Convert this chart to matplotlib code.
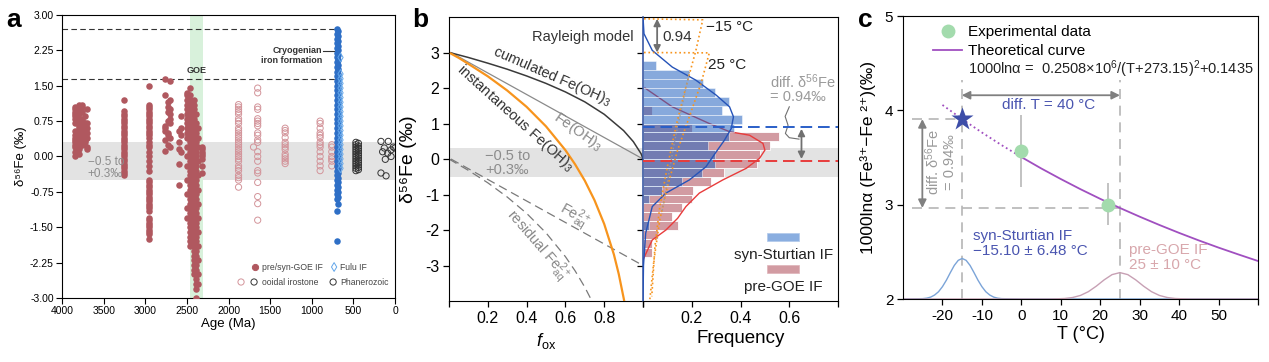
import matplotlib.pyplot as plt
from matplotlib.lines import Line2D
from matplotlib.patches import Rectangle

plt.rcParams['font.family'] = ['Liberation Sans', 'DejaVu Sans']
plt.rcParams['mathtext.fontset'] = 'custom'
plt.rcParams['mathtext.rm'] = 'Liberation Sans'
plt.rcParams['mathtext.it'] = 'Liberation Sans:italic'
plt.rcParams['axes.unicode_minus'] = False

# ---------------- panel a data (age in Ma, d56Fe in permil) ----------------
goe_ages = [3840, 3800, 3760, 3730, 3700, 3250, 2950, 2760, 2730, 2700,
            2600, 2570, 2500, 2460, 2420, 2390, 2370, 2320]
goe_3840 = [1.05, 1.0, 0.95, 0.9, 0.85, 0.8, 0.7, 0.55, 0.45, 0.4, 0.35, 0.3, 0.25, 0.2, 0.1, 0.0]
goe_3800 = [1.1, 1.05, 1.0, 0.9, 0.8, 0.75, 0.65, 0.6, 0.5, 0.4, 0.3, 0.2, 0.15, 0.05]
goe_3760 = [1.1, 1.05, 0.95, 0.8, 0.75, 0.7, 0.6, 0.5, 0.45, 0.35, 0.3, 0.25]
goe_3730 = [0.85, 0.7, 0.65, 0.6, 0.55, 0.5, 0.45, 0.4, 0.35, 0.3]
goe_3700 = [1.0, 0.7, 0.6, 0.5, 0.4, 0.2, 0.15]
goe_3250 = [1.2, 0.97, 0.9, 0.85, 0.8, 0.75, 0.7, 0.65, 0.6, 0.55, 0.5, 0.45, 0.4, 0.35, 0.3,
            0.25, 0.2, 0.15, 0.1, 0.05, 0.0, -0.05, -0.1, -0.15, -0.2, -0.25, -0.3, -0.35, -0.4]
goe_2950 = [1.5, 1.1, 1.05, 1.0, 0.95, 0.9, 0.85, 0.8, 0.75, 0.7, 0.65, 0.6, 0.55, 0.5, 0.45,
            0.4, 0.3, 0.25, 0.2, 0.1, 0.0, -0.1, -0.2, -0.3, -0.5, -0.55, -0.6, -0.65, -0.7,
            -0.75, -0.8, -0.85, -0.9, -0.95, -1.0, -1.05, -1.1, -1.15, -1.3, -1.35, -1.4,
            -1.45, -1.5, -1.55, -1.6, -1.65, -1.75]
goe_2760 = [1.65, 1.3, 0.65, 0.6, 0.55, 0.35, 0.12]
goe_2730 = [1.15, 1.05, 0.95, 0.75, 0.5, 0.45, 0.25]
goe_2700 = [1.6, 1.2, 1.0, 0.9, 0.8, 0.7, 0.4, 0.2]
goe_2600 = [0.55, 0.3, 0.15, -0.15, -0.6]
goe_2570 = [0.85, 0.6, 0.45, 0.1]
goe_2500 = [1.35, 1.3, 1.2, 1.1, 1.0, 0.9, 0.8, 0.7, 0.6, 0.5, 0.4, 0.2, 0.0, -0.2, -0.5,
            -0.8, -1.1, -1.3]
goe_2460 = [1.45, 1.3, 1.2, 1.1, 1.0, 0.9, 0.8, 0.7, 0.6, 0.5, 0.4, 0.3, 0.2, 0.1, 0.0, -0.1,
            -0.2, -0.3, -0.4, -0.5, -0.6, -0.7, -0.8, -0.9, -1.0, -1.1, -1.2, -1.3, -1.4,
            -1.5, -1.6, -1.7, -1.8, -1.9]
goe_2420 = [1.2, 1.1, 1.0, 0.9, 0.8, 0.7, 0.6, 0.5, 0.4, 0.3, 0.2, 0.1, 0.0, -0.1, -0.2, -0.3,
            -0.4, -0.5, -0.6, -0.7, -0.8, -0.9, -1.0, -1.1, -1.2, -1.3, -1.4, -1.5, -1.6,
            -1.7, -1.8, -1.9, -2.0, -2.1, -2.2, -2.3, -2.4, -2.5]
goe_2390 = [0.9, 0.7, 0.5, 0.3, 0.1, 0.0, -0.1, -0.2, -0.3, -0.4, -0.5, -0.6, -0.7, -0.8,
            -0.9, -1.0, -1.1, -1.2, -1.3, -1.4, -1.5, -1.6, -1.7, -1.8, -1.9, -2.0, -2.1,
            -2.2, -2.3, -2.4, -2.5, -2.6, -2.7, -2.8, -3.0]
goe_2370 = [0.6, 0.4, 0.2, -0.1, -0.4, -0.7, -1.0, -1.3, -1.6, -1.9, -2.2, -2.5, -2.7]
goe_2320 = [0.2, 0.15, 0.1, 0.05, 0.0, -0.05, -0.2, -0.35]
goe_vals = [goe_3840, goe_3800, goe_3760, goe_3730, goe_3700, goe_3250, goe_2950,
            goe_2760, goe_2730, goe_2700, goe_2600, goe_2570, goe_2500, goe_2460,
            goe_2420, goe_2390, goe_2370, goe_2320]

ooid_ages = [1880, 1650, 1700, 1320, 900, 760]
ooid_1880 = [1.1, 1.05, 1.0, 0.95, 0.9, 0.8, 0.75, 0.7, 0.6, 0.55, 0.5, 0.45, 0.4, 0.35, 0.3,
             0.25, 0.2, 0.15, 0.1, 0.05, 0.0, -0.05, -0.1, -0.2, -0.25, -0.3, -0.4, -0.45,
             -0.5, -0.65]
ooid_1650 = [1.45, 1.35, 1.05, 1.0, 0.8, 0.75, 0.7, 0.65, 0.5, 0.45, 0.35, 0.3, 0.1, 0.0,
             -0.1, -0.3, -0.35, -0.55, -0.85, -1.0, -1.35]
ooid_1700 = [0.2]
ooid_1320 = [0.6, 0.55, 0.5, 0.4, 0.3, 0.25, 0.2, 0.15, 0.05, 0.0, -0.05, -0.1, -0.15]
ooid_900 = [0.75, 0.7, 0.6, 0.5, 0.45, 0.4, 0.3, 0.25, 0.2, 0.1, 0.0, -0.1, -0.2, -0.3]
ooid_760 = [0.25, 0.2, 0.1, 0.0, -0.05, -0.1, -0.2]
ooid_vals = [ooid_1880, ooid_1650, ooid_1700, ooid_1320, ooid_900, ooid_760]

cryo_ages = [700, 680]
cryo_700 = [2.7, 2.6, 2.5, 2.4, 2.3, 2.2, 2.1, 2.0, 1.9, 1.8, 1.7, 1.6, 1.5, 1.4, 1.3, 1.2,
            1.1, 1.0, 0.9, 0.8, 0.7, 0.6, 0.5, 0.4, 0.3, 0.2, 0.1, 0.0, -0.1, -0.2, -0.3,
            -0.4, -0.5, -0.6, -0.7, -0.8, -0.9, -1.15, -1.8]
cryo_680 = [2.65, 2.55, 2.45, 2.35, 2.25, 2.15, 2.05, 1.95, 1.85, 1.75, 1.65, 1.55, 1.45,
            1.35, 1.25, 1.15, 1.05, 0.95, 0.85, 0.75, 0.65, 0.55, 0.45, 0.35, 0.25, 0.15,
            0.05, -0.05, -0.15, -0.25, -0.35, -0.45, -0.55, -0.65, -0.75, -0.85, -1.0]
cryo_vals = [cryo_700, cryo_680]

fulu_age = 655
fulu_vals = [2.1, 1.75, 1.65, 1.55, 1.45, 1.35, 1.25, 1.15, 1.05, 0.95, 0.85, 0.75, 0.65,
             0.55, 0.45, 0.35, 0.25, 0.15, 0.05, -0.05, -0.15, -0.25]

phan_470 = [0.3, 0.25, 0.2, 0.15, 0.1, 0.05, 0.0, -0.05, -0.1, -0.15, -0.2, -0.25, -0.3]
phan_440 = [0.28, 0.22, 0.17, 0.12, 0.07, 0.02, -0.03, -0.08, -0.13, -0.18, -0.23, -0.28]
phan_ages = [169, 81, 129, 48, 0, 117, 48, 169, 108, 149, 88, 20]
phan_vals = [0.32, 0.32, 0.18, 0.14, 0.18, -0.06, 0.0, -0.35, -0.41, 0.1, 0.07, 0.2]

# ---------------- panel b data ----------------
f_cum = [0.01, 0.1, 0.2, 0.3, 0.4, 0.5, 0.6, 0.7, 0.8, 0.9, 0.95, 0.99, 1.0]
d_cum = [2.99, 2.86, 2.70, 2.53, 2.34, 2.13, 1.89, 1.61, 1.26, 0.80, 0.49, 0.15, 0.0]
f_inst = [0.01, 0.05, 0.1, 0.2, 0.3, 0.4, 0.5, 0.6, 0.65, 0.7, 0.75, 0.8, 0.85, 0.875, 0.9, 0.905]
d_inst = [2.97, 2.85, 2.68, 2.33, 1.93, 1.47, 0.92, 0.25, -0.15, -0.61, -1.16, -1.83, -2.69,
          -3.24, -3.91, -4.05]
f_res = [0.0, 0.1, 0.2, 0.3, 0.4, 0.5, 0.6, 0.65, 0.7, 0.73, 0.74]
d_res = [0.0, -0.32, -0.67, -1.07, -1.53, -2.08, -2.75, -3.15, -3.61, -3.93, -4.04]
f_batch = [0.01, 1.0]
d_batch_ppt = [3.0, 0.0]
d_batch_aq = [0.0, -3.0]

bin_lo = [-2.75, -2.5, -2.25, -2.0, -1.75, -1.5, -1.25, -1.0, -0.75, -0.5, -0.25,
          0.0, 0.25, 0.5, 0.75, 1.0, 1.25, 1.5, 1.75, 2.0, 2.25, 2.5]
freq_pre = [0.038, 0.038, 0.062, 0.145, 0.12, 0.16, 0.2, 0.206, 0.279, 0.334, 0.466,
            0.478, 0.52, 0.557, 0.2, 0.0, 0.035, 0.0, 0.0, 0.0, 0.0, 0.0]
freq_syn = [0.0, 0.0, 0.0, 0.025, 0.0, 0.0, 0.025, 0.077, 0.16, 0.242, 0.297,
            0.297, 0.268, 0.352, 0.375, 0.407, 0.324, 0.352, 0.297, 0.245, 0.19, 0.052]

kde_syn_x = [0.0, 0.004, 0.038, 0.12, 0.217, 0.3, 0.355, 0.371, 0.362, 0.334, 0.3, 0.258,
             0.19, 0.094, 0.038, 0.011, 0.002, 0.0]
kde_syn_y = [4.0, 3.53, 3.06, 2.59, 2.22, 1.8, 1.47, 1.19, 0.86, 0.53, 0.2, -0.22, -0.59,
             -0.96, -1.34, -2.09, -3.0, -4.0]
kde_pre_x = [0.008, 0.12, 0.272, 0.355, 0.437, 0.492, 0.5, 0.478, 0.424, 0.327, 0.231,
             0.176, 0.142, 0.094, 0.038, 0.0]
kde_pre_y = [2.0, 1.47, 1.0, 0.77, 0.67, 0.44, 0.25, 0.02, -0.26, -0.59, -0.96, -1.34,
             -1.67, -2.0, -2.28, -2.84]

m15_x = [0.004, 0.245, 0.217, 0.176, 0.135, 0.1, 0.069, 0.049, 0.036]
m15_y = [3.95, 3.92, 3.06, 2.03, 0.91, -0.22, -1.34, -2.46, -3.87]
p25_x = [0.004, 0.272, 0.238, 0.19, 0.142, 0.1, 0.069, 0.045, 0.028]
p25_y = [3.0, 2.99, 2.13, 1.19, 0.25, -0.78, -1.71, -2.84, -3.96]
gray_x = [0.19, 0.128, 0.077]
gray_y = [2.45, 0.44, -1.53]

# ---------------- panel c data ----------------
exp_T = [0, 22]
exp_val = [3.57, 3.0]
exp_err_lo = [0.38, 0.22]
exp_err_hi = [0.38, 0.23]
theo_T = [-20, -15, -10, -5, 0, 5, 10, 15, 20, 25, 30, 35, 40, 45, 50, 55, 60]
theo_val = [4.057, 3.907, 3.765, 3.631, 3.505, 3.385, 3.272, 3.164, 3.062, 2.965, 2.873,
            2.785, 2.701, 2.621, 2.545, 2.473, 2.403]
star_T, star_val = -15.1, 3.907
syn_T = [-30, -25, -24, -23, -22, -21, -20, -19, -18, -17, -16, -15, -14, -13, -12, -11,
         -10, -9, -8, -7, -6, -5, 0, 60]
syn_g = [2.0, 2.004, 2.009, 2.02, 2.042, 2.077, 2.131, 2.2, 2.28, 2.356, 2.41, 2.43, 2.41,
         2.356, 2.28, 2.2, 2.131, 2.077, 2.042, 2.02, 2.009, 2.004, 2.0, 2.0]
pre_T = [-30, 5, 7, 9, 11, 13, 15, 17, 19, 21, 23, 25, 27, 29, 31, 33, 35, 37, 39, 41, 43, 45, 60]
pre_g = [2.0, 2.0, 2.0, 2.002, 2.0055, 2.016, 2.038, 2.078, 2.136, 2.203, 2.2585, 2.28,
         2.2585, 2.203, 2.136, 2.078, 2.038, 2.016, 2.0055, 2.002, 2.0, 2.0, 2.0]

fig = plt.figure(figsize=(12.69, 3.62), dpi=100)

# ======================= panel a =======================
ax = fig.add_axes([0.0489, 0.1768, 0.2624, 0.7818])
ax.axhspan(-0.5, 0.3, color='#e3e3e3', lw=0, zorder=0)
ax.axvspan(2460, 2310, color='#d8f1db', lw=0, zorder=0)
ax.hlines([2.7, 1.65], 4000, 720, colors='#333333', linestyles=(0, (5, 3)), lw=0.8, zorder=1)
for age, vals in zip(goe_ages, goe_vals):
    ax.scatter([age] * len(vals), vals, s=22, c='#b0585f', lw=0, zorder=3)
for age, vals in zip(ooid_ages, ooid_vals):
    ax.scatter([age] * len(vals), vals, s=20, facecolors='none', edgecolors='#d3949a', lw=0.7, zorder=3)
for age, vals in zip(cryo_ages, cryo_vals):
    ax.scatter([age] * len(vals), vals, s=22, c='#2e6fc6', lw=0, zorder=3)
ax.scatter([fulu_age] * len(fulu_vals), fulu_vals, s=20, marker='d', facecolors='none',
           edgecolors='#62a6ea', lw=0.7, zorder=4)
ax.scatter([470] * len(phan_470), phan_470, s=20, facecolors='none', edgecolors='#333333', lw=0.7, zorder=3)
ax.scatter([440] * len(phan_440), phan_440, s=20, facecolors='none', edgecolors='#333333', lw=0.7, zorder=3)
ax.scatter(phan_ages, phan_vals, s=20, facecolors='none', edgecolors='#333333', lw=0.7, zorder=3)

ax.text(3690, -0.24, '−0.5 to\n+0.3‰', color='#8c8c8c', fontsize=8.5, va='center', linespacing=1.0)
ax.text(2385, 1.72, 'GOE', fontsize=6.5, fontweight='bold', ha='center', va='bottom', color='#333333')
ax.text(880, 2.14, 'Cryogenian\niron formation', fontsize=6.5, fontweight='bold', ha='right',
        va='center', color='#333333', linespacing=1.05)
ax.plot([870, 715], [2.24, 2.24], color='#333333', lw=0.8)

ax.set_xlim(4000, 0)
ax.set_ylim(-3, 3)
ax.set_xticks([4000, 3500, 3000, 2500, 2000, 1500, 1000, 500, 0])
ax.set_yticks([-3, -2.25, -1.5, -0.75, 0, 0.75, 1.5, 2.25, 3])
ax.set_yticklabels(['%.2f' % v for v in [-3, -2.25, -1.5, -0.75, 0, 0.75, 1.5, 2.25, 3]])
ax.tick_params(labelsize=7.5, length=4, width=0.8, direction='out', pad=2)
ax.set_xlabel('Age (Ma)', fontsize=9.5, labelpad=1)
ax.set_ylabel('δ⁵⁶Fe (‰)', fontsize=9.5, labelpad=2)
for s in ax.spines.values():
    s.set_linewidth(0.8)

# legend keys of panel a, laid out by hand (axes fraction)
key = dict(transform=ax.transAxes, s=20, lw=0.7, clip_on=False, zorder=5)
ax.scatter([0.580], [0.1095], c='#b0585f', **key)
ax.scatter([0.817], [0.1095], marker='d', facecolors='none', edgecolors='#62a6ea', **key)
ax.scatter([0.5375], [0.0565], facecolors='none', edgecolors='#d3949a', **key)
ax.scatter([0.5766, 0.814], [0.0565, 0.0565], facecolors='none', edgecolors='#333333', **key)
lab = dict(transform=ax.transAxes, fontsize=6.2, va='center', color='#444444')
ax.text(0.600, 0.1095, 'pre/syn-GOE IF', **lab)
ax.text(0.835, 0.1095, 'Fulu IF', **lab)
ax.text(0.600, 0.0565, 'ooidal irostone', **lab)
ax.text(0.835, 0.0565, 'Phanerozoic', **lab)

# ======================= panel b (model) =======================
axb = fig.add_axes([0.3538, 0.1685, 0.1529, 0.7845])
axb.axhspan(-0.5, 0.3, color='#e3e3e3', lw=0, zorder=0)
axb.plot(f_batch, d_batch_ppt, color='#8a8a8a', lw=0.9, zorder=2)
axb.plot(f_cum, d_cum, color='#3a3a3a', lw=1.1, zorder=3)
axb.plot(f_res, d_res, color='#7a7a7a', lw=0.9, dashes=(7, 4), zorder=2)
axb.plot(f_batch, d_batch_aq, color='#7a7a7a', lw=0.9, dashes=(7, 4), zorder=2)
axb.plot(f_inst, d_inst, color='#f7941d', lw=1.6, zorder=3)

axb.text(0.95, 3.44, 'Rayleigh model', fontsize=10.5, ha='right', va='center', color='#333333')
axb.text(0.53, 2.32, 'cumulated Fe(OH)$_3$', fontsize=10.5, rotation=-23.5, ha='center',
         va='center', color='#333333', rotation_mode='anchor')
axb.text(0.34, 1.15, 'instantaneous Fe(OH)$_3$', fontsize=10.5, rotation=-42, ha='center',
         va='center', color='#333333', rotation_mode='anchor')
axb.text(0.665, 0.77, 'Fe(OH)$_3$', fontsize=10.5, rotation=-35, ha='center', va='center',
         color='#888888', rotation_mode='anchor')
axb.text(0.30, -0.12, '−0.5 to\n+0.3‰', fontsize=10.5, ha='center', va='center',
         color='#8c8c8c', linespacing=1.0)
axb.text(0.645, -1.62, 'Fe$^{2+}_{\\rm aq}$', fontsize=10.5, rotation=-30, ha='center',
         va='center', color='#888888', rotation_mode='anchor')
axb.text(0.455, -2.45, 'residual Fe$^{2+}_{\\rm aq}$', fontsize=10.5, rotation=-49,
         ha='center', va='center', color='#888888', rotation_mode='anchor')

axb.set_xlim(0, 1)
axb.set_ylim(-4, 4)
axb.set_xticks([0, 0.2, 0.4, 0.6, 0.8, 1.0])
axb.set_xticklabels(['', '0.2', '0.4', '0.6', '0.8', ''])
axb.set_yticks([-3, -2, -1, 0, 1, 2, 3])
axb.tick_params(labelsize=11.5, length=4, width=0.9, direction='out', pad=3)
axb.set_xlabel('$f$$_{\\rm ox}$', fontsize=13, labelpad=4)
axb.set_ylabel('δ⁵⁶Fe (‰)', fontsize=14, labelpad=6)
axb.spines['right'].set_visible(False)

# ======================= panel b (histogram) =======================
axh = fig.add_axes([0.5067, 0.1685, 0.1537, 0.7845])
axh.axhspan(-0.5, 0.3, color='#e3e3e3', lw=0, zorder=0)
axh.barh(bin_lo, freq_pre, height=0.25, align='edge', color='#d29ba2', edgecolor='white',
         lw=0.6, zorder=1)
axh.plot(kde_pre_x, kde_pre_y, color='#e83c3c', lw=1.0, zorder=1.5)
axh.barh(bin_lo, freq_syn, height=0.25, align='edge', color='#2463c0', alpha=0.55,
         edgecolor='white', lw=0.6, zorder=2)
axh.plot(kde_syn_x, kde_syn_y, color='#2553b8', lw=1.0, zorder=3)
axh.plot(m15_x, m15_y, color='#f7941d', lw=1.2, ls=':', zorder=3)
axh.plot(p25_x, p25_y, color='#f7941d', lw=1.2, ls=':', zorder=3)
axh.plot(gray_x, gray_y, color='#9a9a9a', lw=1.0, ls=':', zorder=3)
axh.axhline(0.9, color='#2a5fc8', lw=1.4, dashes=(6, 3), zorder=4)
axh.axhline(-0.05, color='#e83c3c', lw=1.4, dashes=(6, 3), zorder=4)

axh.annotate('', xy=(0.058, 3.95), xytext=(0.058, 3.0),
             arrowprops=dict(arrowstyle='<|-|>', color='#707070', lw=1.3, mutation_scale=10,
                             shrinkA=0, shrinkB=0))
axh.text(0.078, 3.45, '0.94', fontsize=11, va='center', color='#333333')
axh.text(0.258, 3.72, '−15 °C', fontsize=11, va='center', color='#222222')
axh.text(0.265, 2.64, '25 °C', fontsize=11, va='center', color='#222222')
axh.annotate('', xy=(0.65, 0.85), xytext=(0.65, 0.0),
             arrowprops=dict(arrowstyle='<|-|>', color='#707070', lw=1.3, mutation_scale=10,
                             shrinkA=0, shrinkB=0))
axh.text(0.52, 2.17, 'diff. δ$^{56}$Fe', fontsize=10.5, va='center', color='#9a9a9a')
axh.text(0.52, 1.75, '= 0.94‰', fontsize=10.5, va='center', color='#9a9a9a')
axh.plot([0.6, 0.583, 0.595, 0.584, 0.60, 0.64], [1.47, 1.2, 0.95, 0.72, 0.6, 0.56],
         color='#707070', lw=0.8)

axh.add_patch(Rectangle((0.6375, 0.2125), 0.16, 0.028, transform=axh.transAxes,
                        color='#8aaee0', ec='#b0c8ea', lw=0.5))
axh.text(0.72, 0.163, 'syn-Sturtian IF', transform=axh.transAxes, fontsize=11,
         ha='center', va='center', color='#222222')
axh.add_patch(Rectangle((0.6375, 0.1), 0.16, 0.028, transform=axh.transAxes,
                        color='#d29ba2', ec='#dfb3b8', lw=0.5))
axh.text(0.72, 0.05, 'pre-GOE IF', transform=axh.transAxes, fontsize=11,
         ha='center', va='center', color='#222222')

axh.set_xlim(0, 0.8)
axh.set_ylim(-4, 4)
axh.set_xticks([0, 0.2, 0.4, 0.6, 0.8])
axh.set_xticklabels(['', '0.2', '0.4', '0.6', ''])
axh.set_yticks([-3, -2, -1, 0, 1, 2, 3])
axh.set_yticklabels([])
axh.tick_params(labelsize=11.5, length=4, width=0.9, direction='out', pad=3)
axh.set_xlabel('Frequency', fontsize=13.5, labelpad=3)
axh.spines['left'].set_color('#2b4c9c')
axh.spines['left'].set_linewidth(1.1)

# ======================= panel c =======================
axc = fig.add_axes([0.7116, 0.174, 0.2797, 0.7818])
axc.plot(syn_T, syn_g, color='#7ba4d8', lw=1.0, zorder=2)
axc.plot(pre_T, pre_g, color='#c7a0b4', lw=1.0, zorder=2)
axc.vlines([-15.1, 25], 2.0, 4.32, colors='#b5b5b5', linestyles=(0, (6, 4)), lw=1.2, zorder=1)
axc.hlines([3.907, 2.965], -27.7, [-15.1, 25], colors='#b5b5b5', linestyles=(0, (6, 4)),
           lw=1.2, zorder=1)
n0 = theo_T.index(0)
axc.plot(theo_T[:n0 + 1], theo_val[:n0 + 1], color='#a04fc0', lw=1.3, ls=':', zorder=3)
axc.plot(theo_T[n0:], theo_val[n0:], color='#a04fc0', lw=1.3, zorder=3)
axc.errorbar(exp_T, exp_val, yerr=[exp_err_lo, exp_err_hi], fmt='none', ecolor='#bdbdbd',
             elinewidth=1.3, zorder=2)
axc.plot(exp_T, exp_val, 'o', color='#a3dbad', ms=10, mec='none', zorder=4)
axc.plot([star_T], [star_val], marker='*', color='#3d4da8', ms=17, mec='none', zorder=5)

axc.annotate('', xy=(-15.1, 4.16), xytext=(25, 4.16),
             arrowprops=dict(arrowstyle='<|-|>', color='#808080', lw=1.3, mutation_scale=12,
                             shrinkA=0, shrinkB=0))
axc.text(6.8, 4.06, 'diff. T = 40 °C', fontsize=11, ha='center', va='center', color='#4a55b0')
axc.annotate('', xy=(-25.1, 3.907), xytext=(-25.1, 2.965),
             arrowprops=dict(arrowstyle='<|-|>', color='#808080', lw=1.3, mutation_scale=12,
                             shrinkA=0, shrinkB=0))
axc.text(-20.6, 3.45, 'diff. δ$^{56}$Fe\n= 0.94‰', fontsize=10.5, rotation=90, ha='center',
         va='center', color='#9a9a9a', linespacing=1.1)
axc.text(-12.3, 2.59, 'syn-Sturtian IF\n−15.10 ± 6.48 °C', fontsize=11, va='center',
         color='#4a55b0', linespacing=1.15)
axc.text(27.3, 2.44, 'pre-GOE IF\n25 ± 10 °C', fontsize=11, va='center', color='#d8a7ac',
         linespacing=1.15)

h_exp = Line2D([], [], marker='o', ls='', color='#a3dbad', ms=10, mec='none')
h_theo = Line2D([], [], color='#a04fc0', lw=1.3)
axc.legend([h_exp, h_theo], ['Experimental data', 'Theoretical curve'], loc='upper left',
           bbox_to_anchor=(0.085, 0.968), frameon=False, fontsize=11, handlelength=1.9,
           handletextpad=0.4, labelspacing=0.35, borderpad=0, borderaxespad=0)
axc.text(-13.6, 4.44, '1000lnα =  0.2508×10$^{6}$/(T+273.15)$^{2}$+0.1435', fontsize=10.5,
         va='center', color='#222222')

axc.set_xlim(-30, 60)
axc.set_ylim(2, 5)
axc.set_xticks([-20, -10, 0, 10, 20, 30, 40, 50, 60])
axc.set_xticklabels(['-20', '-10', '0', '10', '20', '30', '40', '50', ''])
axc.set_yticks([2, 3, 4, 5])
axc.tick_params(labelsize=11, length=4, width=0.9, direction='out', pad=3)
axc.set_xlabel('T (°C)', fontsize=13, labelpad=2)
axc.set_ylabel('1000lnα (Fe³⁺−Fe ²⁺)(‰)', fontsize=12.5, labelpad=6)

fig.text(0.005, 0.925, 'a', fontsize=19, fontweight='bold', va='baseline')
fig.text(0.3245, 0.925, 'b', fontsize=19, fontweight='bold', va='baseline')
fig.text(0.676, 0.925, 'c', fontsize=19, fontweight='bold', va='baseline')

fig.savefig('out.png', dpi=100)
